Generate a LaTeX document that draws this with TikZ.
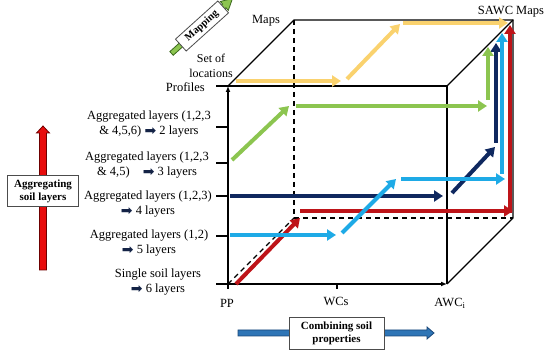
\documentclass[tikz,border=0pt]{standalone}
\usepackage{fontspec}
\setmainfont{Liberation Serif}
\newfontfamily\symfont{DejaVu Sans}
\usetikzlibrary{arrows.meta}
\definecolor{cYel}{RGB}{250,210,110}
\definecolor{cGrn}{RGB}{140,197,80}
\definecolor{cNavy}{RGB}{15,40,95}
\definecolor{cLBlue}{RGB}{30,170,230}
\definecolor{cRed}{RGB}{190,20,25}
\definecolor{cRedL}{RGB}{232,12,12}
\definecolor{cRedD}{RGB}{110,0,0}
\definecolor{cBlu}{RGB}{46,117,182}
\definecolor{cBluD}{RGB}{25,70,120}
\definecolor{cGrnD}{RGB}{60,105,30}
\definecolor{cSym}{RGB}{20,35,70}
\newcommand{\rarr}{{\symfont\fontsize{14}{14}\selectfont\color{cSym}\raisebox{-0.5pt}{➡}}}
\begin{document}
\begin{tikzpicture}[x=1pt,y=-1pt,
  lbl/.style={font=\fontsize{12.5}{15.5}\selectfont, align=center, inner sep=0pt},
  flow/.style={line width=4pt, -{Triangle[length=9pt,width=11pt]}},
  cubeedge/.style={line width=1.2pt},
  hid/.style={line width=1.4pt, dash pattern=on 5pt off 4pt},
  tickmark/.style={line width=1.5pt},
  bbox/.style={draw=black!70, fill=white, line width=0.8pt, font=\bfseries\fontsize{11}{13}\selectfont, align=center, inner sep=2pt}
]
\useasboundingbox (0,0) rectangle (550,352);

% cube corners
\coordinate (F1) at (228,86);
\coordinate (F2) at (447,86);
\coordinate (F3) at (447,284);
\coordinate (F4) at (228,284);
\coordinate (B1) at (294,20);
\coordinate (B2) at (513,20);
\coordinate (B3) at (513,218);
\coordinate (B4) at (294,218);

% hidden edges
\draw[hid] (B1) -- (B4) -- (B3);
\draw[hid] (F4) -- (B4);
% visible edges
\draw[cubeedge] (F1) -- (F2) -- (F3);
\draw[cubeedge] (F1) -- (B1) -- (B2) -- (B3) -- (F3);
\draw[cubeedge] (F2) -- (B2);
% axes
\draw[line width=2pt, -{Latex[length=6pt,width=5pt]}] (F4) -- (F1);
\draw[line width=1.6pt, -{Latex[length=6pt,width=5pt]}] (F4) -- (F3);
% ticks
\foreach \yy in {86,127,163,196,236,284}
  \draw[tickmark] (216,\yy) -- (228,\yy);
\draw[tickmark] (228,284) -- (228,289);
\draw[tickmark] (337,284) -- (337,289);

% flow arrow coordinates
\coordinate (y1) at (236,81);  \coordinate (y2) at (341,81);
\coordinate (y3) at (347,79);  \coordinate (y4) at (400,24);
\coordinate (y5) at (403,23);  \coordinate (y6) at (508,23);
\coordinate (g1) at (232,160); \coordinate (g2) at (289,106);
\coordinate (g3) at (296,106); \coordinate (g4) at (487,106);
\coordinate (g5) at (488,100); \coordinate (g6) at (488,47);
\coordinate (n1) at (230,196); \coordinate (n2) at (443,196);
\coordinate (n3) at (452,193); \coordinate (n4) at (495,147);
\coordinate (n5) at (496,143); \coordinate (n6) at (496,43);
\coordinate (b1) at (230,235); \coordinate (b2) at (336,235);
\coordinate (b3) at (342,233); \coordinate (b4) at (396,179);
\coordinate (b5) at (401,179); \coordinate (b6) at (505,179);
\coordinate (b7) at (502,174); \coordinate (b8) at (502,33);
\coordinate (r1) at (236,284); \coordinate (r2) at (300,218);
\coordinate (r3) at (300,211); \coordinate (r4) at (513,211);
\coordinate (r5) at (510,213); \coordinate (r6) at (510,25);

\draw[flow, cYel] (y1) -- (y2);
\draw[flow, cYel] (y3) -- (y4);
\draw[flow, cYel] (y5) -- (y6);
\draw[flow, cRed] (r1) -- (r2);
\draw[flow, cRed] (r3) -- (r4);
\draw[flow, cRed] (r5) -- (r6);
\draw[flow, cNavy] (n1) -- (n2);
\draw[flow, cNavy] (n3) -- (n4);
\draw[flow, cNavy] (n5) -- (n6);
\draw[flow, cGrn] (g1) -- (g2);
\draw[flow, cGrn] (g3) -- (g4);
\draw[flow, cGrn] (g5) -- (g6);
\draw[flow, cLBlue] (b1) -- (b2);
\draw[flow, cLBlue] (b3) -- (b4);
\draw[flow, cLBlue] (b5) -- (b6);
\draw[flow, cLBlue] (b7) -- (b8);

% labels
\node[lbl] (maps) at (266,21) {Maps};
\node[lbl] (sawc) at (511,12) {SAWC Maps};
\node[lbl, font=\fontsize{12}{15}\selectfont] (setloc) at (211,66) {Set of\\locations};
\node[lbl, anchor=east] (prof) at (205,87) {Profiles};
\node[lbl] (pp) at (227,303) {PP};
\node[lbl] (wcs) at (336,301) {WCs};
\node[lbl] (awc) at (450,303) {AWC\textsubscript{i}};

\node[lbl] (l2) at (149,124) {Aggregated layers (1,2,3\\\& 4,5,6) \rarr{} 2 layers};
\node[lbl] (l3) at (147,165) {Aggregated layers (1,2,3\\\& 4,5)\hspace{10pt} \rarr{} 3 layers};
\node[lbl] (l4) at (148,204) {Aggregated layers (1,2,3)\\\rarr{} 4 layers\hspace{12pt}};
\node[lbl] (l5) at (149,243) {Aggregated layers (1,2)\\\rarr{} 5 layers\hspace{12pt}};
\node[lbl] (l6) at (158,282) {Single soil layers\\\rarr{} 6 layers\hspace{9pt}};

% aggregating arrow
\draw[fill=cRedL, draw=cRedD, line width=0.8pt]
  (39.5,270) -- (39.5,133) -- (36.5,133) -- (43,126) -- (49.5,133) -- (46.5,133) -- (46.5,270) -- cycle;
\node[bbox, minimum width=71pt, minimum height=31pt] (agg) at (43,191) {Aggregating\\soil layers};

% combining arrow
\draw[fill=cBlu, draw=cBluD, line width=0.8pt]
  (238,330) -- (427,330) -- (427,327) -- (434,333) -- (427,339) -- (427,336) -- (238,336) -- cycle;
\node[bbox, minimum width=95pt, minimum height=32pt] (comb) at (336.5,333) {Combining soil\\properties};

% mapping arrow
\begin{scope}[shift={(202,26)}, rotate=42]
  \draw[fill=cGrn, draw=cGrnD, line width=0.8pt]
    (-41,-2.5) -- (30,-2.5) -- (30,-6) -- (41,0) -- (30,6) -- (30,2.5) -- (-41,2.5) -- cycle;
  \node[bbox, rotate=42, minimum width=57pt, minimum height=16pt, font=\bfseries\fontsize{10.5}{12}\selectfont] (map) at (0,0) {Mapping};
\end{scope}
\end{tikzpicture}
\end{document}
